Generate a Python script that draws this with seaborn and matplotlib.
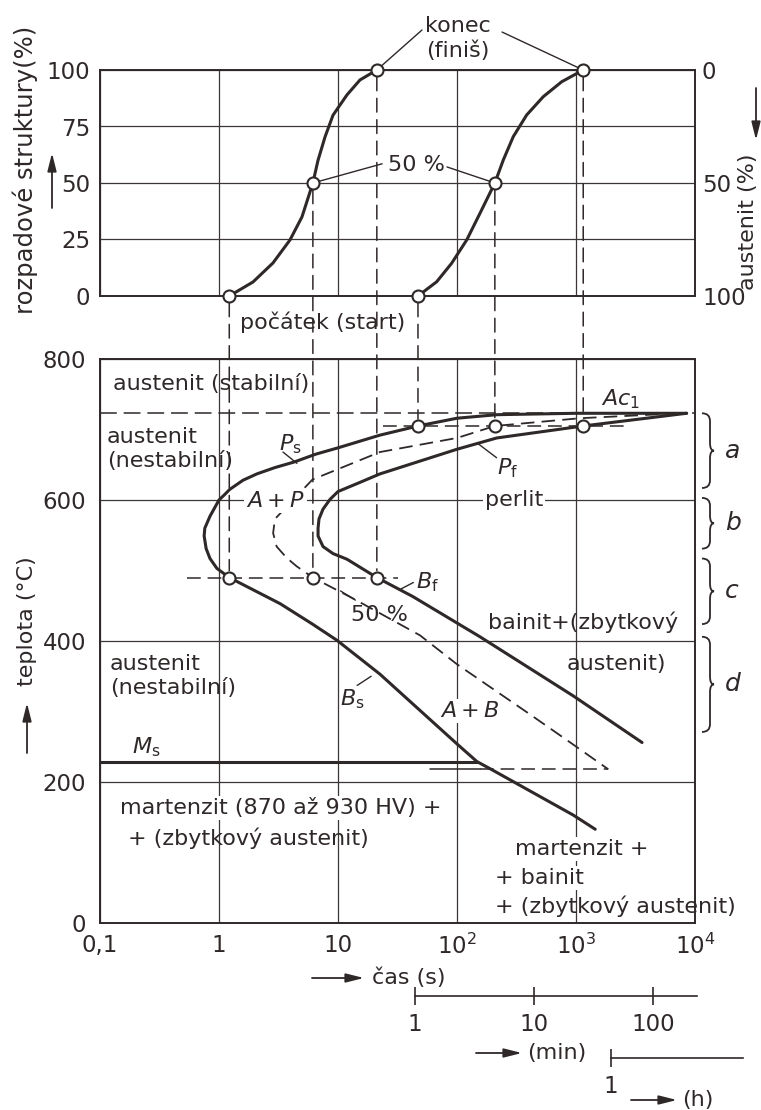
import numpy as np
import matplotlib
matplotlib.use("Agg")
import matplotlib.pyplot as plt
import seaborn as sns
from matplotlib.patches import ConnectionPatch, PathPatch, FancyArrowPatch
from matplotlib.path import Path
from matplotlib.ticker import NullLocator
from matplotlib.transforms import blended_transform_factory

sns.set_theme(style="white")
plt.rcParams["font.family"] = ["DejaVu Sans"]
plt.rcParams["mathtext.fontset"] = "dejavusans"

INK = "#2f2828"
GRID = "#3d3636"
FS = 16

# ---------------- data ----------------
# time in s (log axis), temperature in degC, transformed structure in %
ac1 = 723
ms = 228
iso_low = 490      # bainite isotherm (left kinetic curve)
iso_high = 705     # pearlite isotherm (right kinetic curve)

# outer C-curve: start of transformation (P_s above the nose, B_s below)
start_t = [8500, 1000, 216, 100, 47, 22.5, 10, 6.5, 4.3, 2.95, 2.08, 1.59, 1.23, 1.12,
           1.0, 0.84, 0.76, 0.75, 0.78, 0.84, 0.96, 1.22, 3.26, 6.1, 9.8, 22.5, 100,
           147, 189, 950, 1450]
start_T = [723, 723, 721, 716, 705, 692, 674, 665, 654, 646, 637, 628, 615, 608,
           600, 577, 560, 549, 531, 517, 503, 490, 453, 424, 401, 353, 254,
           229, 219, 153, 133]

# inner C-curve: end of transformation (P_f above the nose, B_f below)
finish_t = [8500, 1150, 216, 100, 22.5, 15.3, 10, 8.58, 7.48, 6.92, 6.8, 6.8,
            7.48, 9.08, 11.9, 21.2, 42.6, 156, 951, 3590]
finish_T = [723, 705, 688, 672, 637, 625, 612, 601, 587, 573, 560, 549,
            534, 524, 516, 490, 463, 406, 322, 256]

# dashed C-curve: 50 % transformed
half_t = [7400, 1081, 208, 100, 22.5, 6.1, 2.95, 2.85, 3.05, 3.70, 4.49, 6.15,
          13.5, 48.9, 100, 410, 950, 1870]
half_T = [723, 716, 705, 688, 668, 629, 573, 553, 534, 518, 506, 490,
          460, 408, 367, 296, 253, 218]

# kinetic curves in the upper panel
kin_low_t = [1.22, 1.93, 2.84, 3.95, 4.98, 6.15, 6.79, 7.78, 9.08, 11.9, 15.3, 21.2]
kin_low_p = [0, 6.2, 14.6, 24.8, 35, 50, 60, 70.4, 80, 89, 95.6, 100]
kin_high_t = [47, 67.5, 90.2, 120.7, 156, 208, 245, 297, 385, 531, 758, 1150]
kin_high_p = [0, 6.3, 14.5, 24.8, 36.6, 50, 60.2, 70.5, 80.1, 88.2, 94.8, 100]

# marked points (start, 50 %, finish) on both isotherms
mark_pct = [0, 50, 100]
mark_low_t = [1.22, 6.15, 21.2]
mark_high_t = [47, 208, 1150]

# temperature zones a-d on the right
zone_names = ["a", "b", "c", "d"]
zone_top = [723, 603, 517, 406]
zone_bottom = [617, 531, 424, 271]

time_ticks = [0.1, 1, 10, 100, 1000, 10000]
time_labels = ["0,1", "1", "10", r"$10^2$", r"$10^3$", r"$10^4$"]
temp_ticks = [0, 200, 400, 600, 800]
pct_ticks = [0, 25, 50, 75, 100]
aus_ticks = [0, 50, 100]
min_ticks = [1, 10, 100]
hour_ticks = [1]

# ---------------- figure ----------------
W, H = 761, 1110
fig = plt.figure(figsize=(W / 100, H / 100), dpi=100)
fig.patch.set_facecolor("white")


def fx(px):
    return px / W


def fy(py):
    return 1 - py / H


ax_top = fig.add_axes([fx(100), fy(296), 595 / W, 226 / H])
ax_bot = fig.add_axes([fx(100), fy(923), 595 / W, 564 / H])

for ax in (ax_top, ax_bot):
    ax.set_xscale("log")
    ax.set_xlim(0.1, 10000)
    ax.set_xticks(time_ticks)
    ax.xaxis.set_minor_locator(NullLocator())
    ax.grid(True, color=GRID, lw=0.9)
    ax.set_axisbelow(True)
    for s in ax.spines.values():
        s.set_color(INK)
        s.set_linewidth(1.4)
    ax.tick_params(length=0, labelsize=16.5, colors=INK)

# upper panel
ax_top.set_ylim(0, 100)
ax_top.set_yticks(pct_ticks)
ax_top.tick_params(axis="y", pad=7)
ax_top.tick_params(axis="x", labelbottom=False)
ax_r = ax_top.twinx()
ax_r.set_ylim(100, 0)
ax_r.set_yticks(aus_ticks)
ax_r.grid(False)
ax_r.tick_params(length=0, labelsize=16.5, colors=INK, pad=5)
for s in ax_r.spines.values():
    s.set_visible(False)

sns.lineplot(x=kin_low_t, y=kin_low_p, sort=False, estimator=None, ax=ax_top,
             color=INK, lw=2.2)
sns.lineplot(x=kin_high_t, y=kin_high_p, sort=False, estimator=None, ax=ax_top,
             color=INK, lw=2.2)
for tt in (mark_low_t, mark_high_t):
    sns.scatterplot(x=tt, y=mark_pct, ax=ax_top, s=75, color="white",
                    edgecolor=INK, linewidth=1.5, zorder=6, clip_on=False)

ax_top.text(102, 114, "konec\n(finiš)", ha="center", va="center", fontsize=FS,
            color=INK, linespacing=1.3, clip_on=False)
ax_top.plot([mark_low_t[2], 50.8], [100, 117.7], color=INK, lw=1.0, clip_on=False)
ax_top.plot([239, mark_high_t[2]], [116.8, 100], color=INK, lw=1.0, clip_on=False)
ax_top.text(45.5, 58, "50 %", ha="center", va="center", fontsize=FS, color=INK)
ax_top.plot([mark_low_t[1], 23.5], [50, 58.5], color=INK, lw=1.0)
ax_top.plot([82.4, mark_high_t[1]], [57.1, 50], color=INK, lw=1.0)
ax_top.text(1.50, -11.5, "počátek (start)", ha="left", va="center", fontsize=FS,
            color=INK, clip_on=False)

# lower panel
ax_bot.set_ylim(0, 800)
ax_bot.set_yticks(temp_ticks)
ax_bot.set_xticklabels(time_labels)
ax_bot.tick_params(axis="y", pad=10)
ax_bot.tick_params(axis="x", pad=8)

dash = (0, (9, 4.5))
ax_bot.axhline(ac1, color=INK, lw=1.1, ls=(0, (11, 4.5)))
ax_bot.plot([0.1, 147], [ms, ms], color=INK, lw=2.2)
ax_bot.plot([0.54, 31.9], [iso_low, iso_low], color=INK, lw=1.1, ls=dash)
ax_bot.plot([23.9, 2570], [iso_high, iso_high], color=INK, lw=1.1, ls=dash)
ax_bot.plot([59, 156], [218, 218], color=INK, lw=1.1)
ax_bot.plot([156, 1870], [218, 218], color=INK, lw=1.1, ls=dash)

sns.lineplot(x=start_t, y=start_T, sort=False, estimator=None, ax=ax_bot,
             color=INK, lw=2.2)
sns.lineplot(x=finish_t, y=finish_T, sort=False, estimator=None, ax=ax_bot,
             color=INK, lw=2.2)
sns.lineplot(x=half_t, y=half_T, sort=False, estimator=None, ax=ax_bot,
             color=INK, lw=1.3, linestyle=(0, (7.5, 4)))
sns.scatterplot(x=mark_low_t, y=[iso_low] * 3, ax=ax_bot, s=75, color="white",
                edgecolor=INK, linewidth=1.5, zorder=6)
sns.scatterplot(x=mark_high_t, y=[iso_high] * 3, ax=ax_bot, s=75, color="white",
                edgecolor=INK, linewidth=1.5, zorder=6)

# dashed projections between the panels
for tt, T in ((mark_low_t, iso_low), (mark_high_t, iso_high)):
    for t, p in zip(tt, mark_pct):
        con = ConnectionPatch(xyA=(t, p), coordsA=ax_top.transData,
                              xyB=(t, T), coordsB=ax_bot.transData,
                              color=INK, lw=1.1, linestyle=(0, (9, 5)),
                              shrinkA=5, shrinkB=5)
        fig.add_artist(con)

white = dict(facecolor="white", edgecolor="none", pad=1.5)


def label(x, y, s, ha="left", bbox=None, **kw):
    ax_bot.text(x, y, s, ha=ha, va="center", fontsize=FS, color=INK, bbox=bbox,
                zorder=4, **kw)


label(0.128, 764, "austenit (stabilní)")
label(0.114, 672, "austenit\n(nestabilní)", linespacing=1.25)
label(3.95, 679, r"$P_\mathrm{s}$", ha="center")
ax_bot.plot([3.45, 4.52], [668, 652], color=INK, lw=1.0)
label(3.01, 599, r"$A+P$", ha="center", bbox=white)
label(268, 645, r"$P_\mathrm{f}$", ha="center")
ax_bot.plot([150, 215], [680, 660], color=INK, lw=1.0)
label(301, 600, "perlit", ha="center", bbox=white)
label(2344, 743, r"$Ac_1$", ha="center")
label(56, 484, r"$B_\mathrm{f}$", ha="center")
ax_bot.plot([34, 43], [474, 483], color=INK, lw=1.0)
label(22.5, 437, "50 %", ha="center")
ax_bot.plot([10.5, 14], [471, 458], color=INK, lw=1.0)
label(7194, 427, "bainit+(zbytkový", ha="right")
label(840, 368, "austenit)")
label(0.121, 351, "austenit\n(nestabilní)", linespacing=1.25)
label(13.1, 317, r"$B_\mathrm{s}$", ha="center")
ax_bot.plot([14.5, 19], [337, 350], color=INK, lw=1.0)
label(128, 301, r"$A+B$", ha="center", bbox=white)
label(0.244, 250, r"$M_\mathrm{s}$", ha="center")
label(0.147, 163, "martenzit (870 až 930 HV) +", bbox=white)
label(0.172, 120, "+ (zbytkový austenit)")
label(307, 105, "martenzit +", bbox=white)
label(208, 64, "+ bainit", bbox=white)
label(208, 24, "+ (zbytkový austenit)", clip_on=False)

# braces for zones a-d
trans = blended_transform_factory(ax_bot.transAxes, ax_bot.transData)
x0, xm, xt = 602 / 595, 610 / 595, 614 / 595
r = 11
for name, top, bot in zip(zone_names, zone_top, zone_bottom):
    mid = (top + bot) / 2
    verts = [(x0, top), (xm, top), (xm, top - r), (xm, mid + r), (xm, mid),
             (xt, mid), (xm, mid), (xm, mid - r), (xm, bot + r), (xm, bot), (x0, bot)]
    codes = [Path.MOVETO, Path.CURVE3, Path.CURVE3, Path.LINETO, Path.CURVE3,
             Path.CURVE3, Path.CURVE3, Path.CURVE3, Path.LINETO, Path.CURVE3,
             Path.CURVE3]
    ax_bot.add_patch(PathPatch(Path(verts, codes), transform=trans, fill=False,
                               ec=INK, lw=1.3, clip_on=False))
    ax_bot.text(625 / 595, mid, name, transform=trans, fontsize=18, style="italic",
                color=INK, va="center", ha="left")

# axis titles and arrows
arrow = dict(arrowstyle="-|>,head_length=0.6,head_width=0.15", color=INK, lw=1.3,
             mutation_scale=18, shrinkA=0, shrinkB=0)


def fig_arrow(x0_, y0_, x1_, y1_):
    fig.add_artist(FancyArrowPatch((fx(x0_), fy(y0_)), (fx(x1_), fy(y1_)),
                                   transform=fig.transFigure, **arrow))


fig.text(fx(25), fy(170), "rozpadové struktury(%)", rotation=90, ha="center",
         va="center", fontsize=17.5, color=INK)
fig_arrow(52, 208, 52, 153)
fig.text(fx(748), fy(222), "austenit (%)", rotation=90, ha="center", va="center",
         fontsize=FS, color=INK)
fig_arrow(756, 88, 756, 140)
fig.text(fx(27), fy(621), "teplota (°C)", rotation=90, ha="center", va="center",
         fontsize=FS, color=INK)
fig_arrow(27, 753, 27, 703)
fig.text(fx(372), fy(978), "čas (s)", ha="left", va="center", fontsize=FS, color=INK)
fig_arrow(312, 978, 364, 978)
fig.text(fx(527), fy(1053), "(min)", ha="left", va="center", fontsize=FS, color=INK)
fig_arrow(476, 1053, 522, 1053)
fig.text(fx(682), fy(1100), "(h)", ha="left", va="center", fontsize=FS, color=INK)
fig_arrow(631, 1100, 677, 1100)

# extra time scales in minutes and hours
for left, right, ypx, ticks in ((415, 697, 996, min_ticks), (611, 743, 1058, hour_ticks)):
    axs = fig.add_axes([fx(left), fy(ypx), (right - left) / W, 1e-6])
    axs.set_xscale("log")
    axs.set_xlim(1, 10 ** ((right - left) / 119))
    axs.set_xticks(ticks)
    axs.set_xticklabels([str(v) for v in ticks])
    axs.xaxis.set_minor_locator(NullLocator())
    axs.set_yticks([])
    axs.patch.set_visible(False)
    for k, s in axs.spines.items():
        s.set_visible(k == "bottom")
        s.set_color(INK)
        s.set_linewidth(1.2)
    axs.tick_params(axis="x", bottom=True, direction="inout", length=13, width=1.2,
                    pad=6, labelsize=16.5, colors=INK)

fig.savefig("out.png", dpi=100, facecolor="white")
